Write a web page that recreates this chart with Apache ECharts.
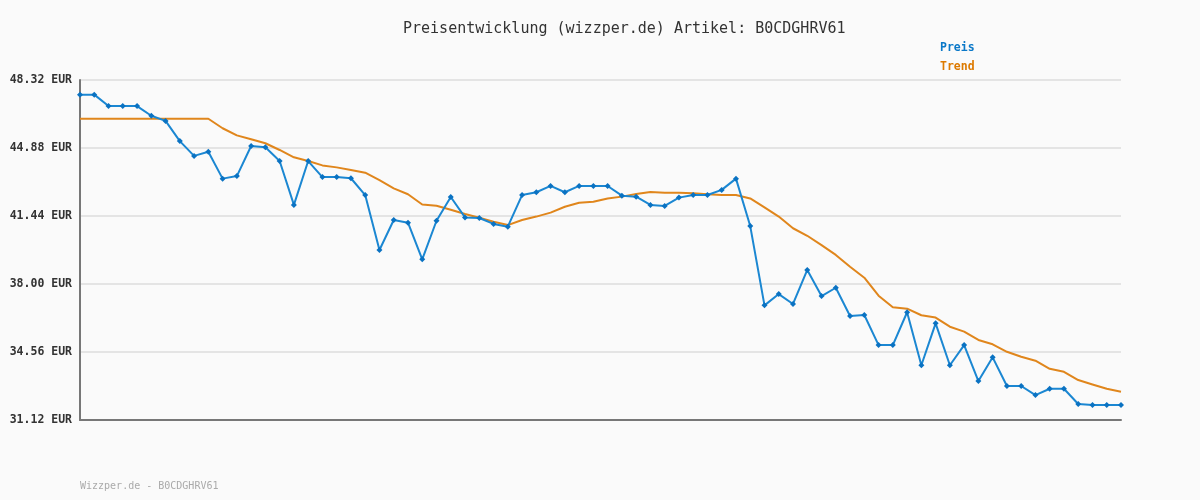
<!DOCTYPE html>
<html>
<head>
<meta charset="utf-8">
<script src="https://cdn.jsdelivr.net/npm/echarts@6/dist/echarts.min.js"></script>
<style>
html,body{margin:0;padding:0;background:#fafafa;}
#chart{width:1200px;height:500px;}
</style>
</head>
<body>
<div id="chart"></div>
<script>
const titleText = 'Preisentwicklung (wizzper.de) Artikel: B0CDGHRV61';
const footerText = 'Wizzper.de - B0CDGHRV61';
const seriesNames = ['Preis', 'Trend'];
const yTicks = [31.12, 34.56, 38.00, 41.44, 44.88, 48.32];

const preis = [
  47.58, 47.58, 47.00, 47.00, 47.00, 46.51, 46.25, 45.23, 44.48, 44.69,
  43.33, 43.46, 44.98, 44.92, 44.22, 42.00, 44.22, 43.41, 43.41, 43.35,
  42.50, 39.72, 41.24, 41.10, 39.25, 41.20, 42.40, 41.37, 41.34, 41.04,
  40.90, 42.50, 42.64, 42.96, 42.64, 42.96, 42.96, 42.96, 42.47, 42.42,
  42.00, 41.95, 42.37, 42.50, 42.50, 42.76, 43.33, 40.93, 36.92, 37.49,
  36.99, 38.71, 37.39, 37.81, 36.38, 36.43, 34.91, 34.91, 36.57, 33.89,
  36.01, 33.89, 34.91, 33.09, 34.29, 32.84, 32.84, 32.38, 32.70, 32.70,
  31.93, 31.88, 31.88, 31.88
];

const trend = [
  46.36, 46.36, 46.36, 46.36, 46.36, 46.36, 46.36, 46.36, 46.36, 46.36,
  45.88, 45.52, 45.32, 45.12, 44.78, 44.41, 44.22, 44.00, 43.90, 43.77,
  43.63, 43.25, 42.84, 42.54, 42.02, 41.96, 41.76, 41.54, 41.35, 41.15,
  40.98, 41.24, 41.41, 41.61, 41.91, 42.11, 42.16, 42.33, 42.42, 42.55,
  42.65, 42.62, 42.62, 42.59, 42.54, 42.50, 42.50, 42.33, 41.88, 41.41,
  40.82, 40.44, 39.97, 39.47, 38.87, 38.32, 37.41, 36.82, 36.75, 36.42,
  36.30, 35.84, 35.59, 35.17, 34.95, 34.57, 34.32, 34.12, 33.71, 33.56,
  33.14, 32.92, 32.70, 32.55
];

const categories = preis.map((_, i) => String(i + 1));

const mono = '"DejaVu Sans Mono", "Liberation Mono", monospace';
const blue = '#1b87d2';
const blueDark = '#0a72c2';
const orange = '#e0861c';

const chart = echarts.init(document.getElementById('chart'), null, {renderer: 'canvas'});
chart.setOption({
  animation: false,
  backgroundColor: '#fafafa',
  title: {
    text: titleText,
    left: 398,
    top: 17,
    textStyle: {fontFamily: mono, fontSize: 15, fontWeight: 'normal', color: '#333'}
  },
  legend: {
    orient: 'vertical',
    left: 930,
    top: 36,
    itemWidth: 0,
    itemHeight: 14,
    itemGap: 6,
    icon: 'none',
    selectedMode: false,
    data: [
      {name: seriesNames[0], textStyle: {color: '#0a78c8'}},
      {name: seriesNames[1], textStyle: {color: '#dd7a00'}}
    ],
    textStyle: {fontFamily: mono, fontSize: 11.5, fontWeight: 'bold'}
  },
  graphic: [{
    type: 'text',
    left: 80,
    top: 481,
    style: {text: footerText, font: '10px ' + mono, fill: '#aaaaaa'}
  }],
  grid: {left: 80, right: 79, top: 80, bottom: 80, containLabel: false},
  xAxis: {
    type: 'category',
    data: categories,
    boundaryGap: false,
    axisLine: {show: true, onZero: false, lineStyle: {color: '#777', width: 2}},
    axisTick: {show: false},
    axisLabel: {show: false},
    splitLine: {show: false}
  },
  yAxis: {
    type: 'value',
    min: yTicks[0],
    max: yTicks[yTicks.length - 1],
    axisLine: {show: true, lineStyle: {color: '#777', width: 2}},
    axisTick: {show: false, customValues: yTicks},
    axisLabel: {
      customValues: yTicks,
      margin: 8,
      fontFamily: mono,
      fontSize: 11.5,
      fontWeight: 'bold',
      color: '#333',
      formatter: v => v.toFixed(2) + ' EUR'
    },
    splitLine: {show: true, lineStyle: {color: '#e4e4e4', width: 2}}
  },
  series: [
    {
      name: seriesNames[0],
      type: 'line',
      data: preis,
      z: 3,
      symbol: 'diamond',
      symbolSize: 6,
      showSymbol: true,
      itemStyle: {color: blueDark},
      lineStyle: {color: blue, width: 2}
    },
    {
      name: seriesNames[1],
      type: 'line',
      data: trend,
      z: 2,
      symbol: 'none',
      itemStyle: {color: orange},
      lineStyle: {color: orange, width: 2}
    }
  ]
});
</script>
</body>
</html>
